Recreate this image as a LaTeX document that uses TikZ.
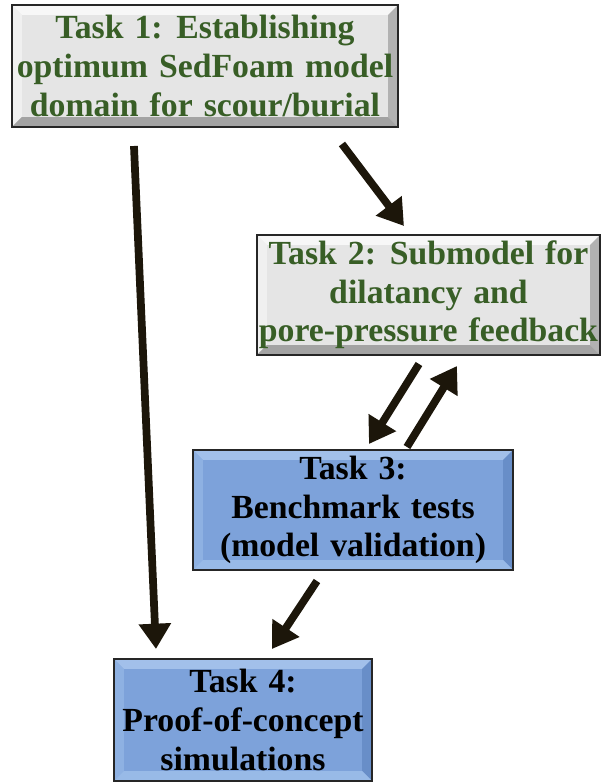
\documentclass[tikz,border=0pt]{standalone}
\usepackage{fontspec}
\setmainfont[WordSpace=1.3]{Liberation Serif}
\usetikzlibrary{arrows.meta,calc}
\definecolor{taskgreen}{RGB}{56,94,38}
\definecolor{arrowbrown}{RGB}{28,22,10}
\definecolor{faceblue}{RGB}{125,162,218}
\definecolor{topblue}{RGB}{162,192,234}
\definecolor{leftblue}{RGB}{142,177,226}
\definecolor{rightblue}{RGB}{104,142,200}
\definecolor{botblue}{RGB}{152,186,231}
\tikzset{
  bevel/.style n args={4}{path picture={
    \fill[#1] (path picture bounding box.north west) -- (path picture bounding box.north east)
      -- ([shift={(-10,10)}]path picture bounding box.north east) -- ([shift={(10,10)}]path picture bounding box.north west) -- cycle;
    \fill[#2] (path picture bounding box.north west) -- (path picture bounding box.south west)
      -- ([shift={(10,-10)}]path picture bounding box.south west) -- ([shift={(10,10)}]path picture bounding box.north west) -- cycle;
    \fill[#3] (path picture bounding box.north east) -- (path picture bounding box.south east)
      -- ([shift={(-10,-10)}]path picture bounding box.south east) -- ([shift={(-10,10)}]path picture bounding box.north east) -- cycle;
    \fill[#4] (path picture bounding box.south west) -- (path picture bounding box.south east)
      -- ([shift={(-10,-10)}]path picture bounding box.south east) -- ([shift={(10,-10)}]path picture bounding box.south west) -- cycle;
  }},
  greybox/.style={fill=black!10,text=taskgreen,bevel={black!3}{black!6}{black!30}{black!36}},
  bluebox/.style={fill=faceblue,text=black,bevel={topblue}{leftblue}{rightblue}{botblue}},
  taskarrow/.style={draw=arrowbrown,line width=5.5pt,-{Triangle[width=22pt,length=18pt]}}
}
\begin{document}
\begin{tikzpicture}[x=0.025cm,y=-0.025cm,
  every node/.style={draw=black!85,line width=1.4pt,inner sep=0pt,align=center,
    font=\fontsize{24}{27.5}\selectfont\bfseries}]
  \useasboundingbox (0,0) rectangle (602,782);
  % tasks
  \node[greybox,minimum width=9.65cm,minimum height=3.05cm] (t1) at (205,66)
    {Task 1: Establishing\\optimum SedFoam model\\domain for scour/burial};
  \node[greybox,minimum width=8.575cm,minimum height=3cm] (t2) at (428.5,295)
    {Task 2: Submodel for\\dilatancy and\\pore-pressure feedback};
  \node[bluebox,minimum width=8cm,minimum height=3cm] (t3) at (353,510)
    {Task 3:\\Benchmark tests\\(model validation)};
  \node[bluebox,minimum width=6.45cm,minimum height=3.05cm] (t4) at (243,720)
    {Task 4:\\Proof-of-concept\\simulations};
  % links
  \draw[taskarrow] ($(t1.south west)+(123,18)$) -- ($(t4.north west)+(43,-9)$);
  \draw[taskarrow] ($(t1.south west)+(331,16)$) -- ($(t2.north west)+(148,-8)$);
  \draw[taskarrow] ($(t2.south west)+(163,8)$) -- ($(t3.north west)+(177,-5)$);
  \draw[taskarrow] ($(t3.north west)+(215,-2)$) -- ($(t2.south west)+(201,10)$);
  \draw[taskarrow] ($(t3.south west)+(125,10)$) -- ($(t4.north west)+(159,-9)$);
\end{tikzpicture}
\end{document}
